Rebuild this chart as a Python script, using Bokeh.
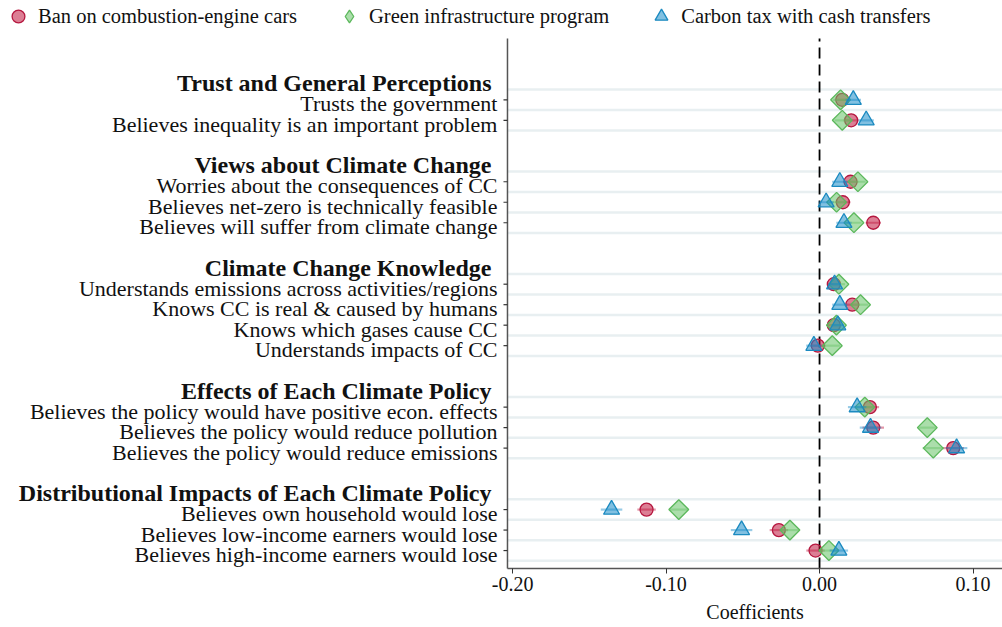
import numpy as np
from bokeh.plotting import figure
from bokeh.models import (Range1d, FixedTicker, Legend, LegendItem, ColumnDataSource)
from bokeh.core.properties import value
from bokeh.embed import file_html
from bokeh.resources import INLINE

# ---------------- data ----------------
group_titles = [
    "Trust and General Perceptions",
    "Views about Climate Change",
    "Climate Change Knowledge",
    "Effects of Each Climate Policy",
    "Distributional Impacts of Each Climate Policy",
]
group_items = [
    ["Trusts the government", "Believes inequality is an important problem"],
    ["Worries about the consequences of CC", "Believes net-zero is technically feasible",
     "Believes will suffer from climate change"],
    ["Understands emissions across activities/regions", "Knows CC is real & caused by humans",
     "Knows which gases cause CC", "Understands impacts of CC"],
    ["Believes the policy would have positive econ. effects",
     "Believes the policy would reduce pollution", "Believes the policy would reduce emissions"],
    ["Believes own household would lose", "Believes low-income earners would lose",
     "Believes high-income earners would lose"],
]
series_names = ["Ban on combustion-engine cars", "Green infrastructure program",
                "Carbon tax with cash transfers"]

ban = [0.0148, 0.0206,
       0.0202, 0.0152, 0.0350,
       0.0093, 0.0213, 0.0093, -0.0011,
       0.0328, 0.0350, 0.0871,
       -0.1127, -0.0265, -0.0026]
green = [0.0137, 0.0148,
         0.0250, 0.0111, 0.0224,
         0.0126, 0.0267, 0.0110, 0.0083,
         0.0295, 0.0702, 0.0741,
         -0.0917, -0.0193, 0.0061]
carbon = [0.0220, 0.0304,
          0.0132, 0.0043, 0.0159,
          0.0098, 0.0132, 0.0119, -0.0037,
          0.0245, 0.0332, 0.0893,
          -0.1355, -0.0508, 0.0126]
ban_ci = [0.005, 0.005, 0.005, 0.005, 0.005, 0.004, 0.005, 0.004, 0.005,
          0.006, 0.007, 0.007, 0.006, 0.006, 0.006]
green_ci = [0.005, 0.005, 0.005, 0.005, 0.005, 0.004, 0.005, 0.004, 0.005,
            0.006, 0.006, 0.007, 0.006, 0.006, 0.006]
carbon_ci = [0.005, 0.005, 0.005, 0.005, 0.005, 0.004, 0.005, 0.004, 0.005,
             0.006, 0.007, 0.007, 0.007, 0.007, 0.006]

x_ticks = [-0.20, -0.10, 0.00, 0.10]
x_tick_labels = ["-0.20", "-0.10", "0.00", "0.10"]
x_title = "Coefficients"

# ---------------- row layout ----------------
header_pos, item_pos, item_names = [], [], []
k = 0
for title, items in zip(group_titles, group_items):
    header_pos.append(-k)
    k += 1
    for it in items:
        item_pos.append(-k)
        item_names.append(it)
        k += 1
    k += 1

grid_pos = [hp - 0.5 for hp in header_pos] + [ip - 0.5 for ip in item_pos]

# panel extents (data units)
X_START = -0.5336
X_AX = -0.2033          # where the y axis sits
X_END = 0.1192
Y_TOP = 1.99
Y_BOT = -23.875
Y_CANVAS_TOP = 3.846
Y_CANVAS_BOT = -26.755
Y_TITLE = -26.02

FONT = "Liberation Serif"
TXT = "#111111"

p = figure(width=1002, height=627, output_backend="svg", toolbar_location=None,
           x_range=Range1d(X_START, X_END), y_range=Range1d(Y_CANVAS_BOT, Y_CANVAS_TOP),
           y_axis_location=None,
           min_border_left=0, min_border_top=0, min_border_bottom=0,
           min_border_right=0)
p.outline_line_color = None
p.background_fill_color = "white"
p.grid.visible = False

# light horizontal bands around each row (panel only)
p.segment(x0=X_AX, x1=X_END, y0=grid_pos, y1=grid_pos,
          line_color="#e8eff1", line_width=2.5)

# x axis, pinned at the bottom of the panel
xa = p.xaxis[0]
xa.fixed_location = Y_BOT
xa.bounds = (X_AX, X_END)
xa.ticker = FixedTicker(ticks=x_ticks)
xa.major_label_overrides = {v: s for v, s in zip(x_ticks, x_tick_labels)}
xa.major_label_text_font = FONT
xa.major_label_text_font_size = "20px"
xa.major_label_text_color = TXT
xa.major_tick_out = 5
xa.major_tick_in = 0
xa.minor_tick_line_color = None
xa.major_label_standoff = 4
xa.axis_line_color = "#555555"
xa.axis_line_width = 1.5
xa.major_tick_line_color = "#333333"

p.text(x=[(X_AX + X_END) / 2], y=[Y_TITLE], text=[x_title], text_align="center",
       text_baseline="middle", text_font=value(FONT), text_font_size="20px",
       text_color=TXT)

# y axis line and ticks
p.segment(x0=X_AX, x1=X_AX, y0=Y_BOT, y1=Y_TOP, line_color="#555555", line_width=1.5)
p.ray(x=[X_AX] * len(item_pos), y=item_pos, length=4, length_units="screen",
      angle=np.pi, line_color="#333333", line_width=1.2)

# zero reference line
p.segment(x0=0, x1=0, y0=Y_BOT, y1=Y_TOP, line_color="black",
          line_width=1.8, line_dash="11 6")

# row labels
p.text(x=[X_AX] * len(item_pos), y=item_pos, text=item_names, x_offset=-10, y_offset=4,
       text_align="right", text_baseline="middle", text_font=value(FONT),
       text_font_size="22px", text_color=TXT)
p.text(x=[X_AX] * len(header_pos), y=header_pos, text=group_titles, x_offset=-16, y_offset=4,
       text_align="right", text_baseline="middle", text_font=value(FONT),
       text_font_style="bold", text_font_size="24px", text_color=TXT)

# series
styles = [
    (ban, ban_ci, "circle", 13, "#c0143c", "#b5173f", 0),
    (green, green_ci, "square", 14, "#66c266", "#5cb85c", np.pi / 4),
    (carbon, carbon_ci, "triangle", 16, "#1a8cc8", "#1b8ac0", 0),
]
legend_items = []
for (vals, ci, marker, size, fill, edge, ang), name in zip(styles, series_names):
    vals = np.array(vals)
    ci = np.array(ci)
    src = ColumnDataSource(dict(x=vals, y=item_pos, lo=vals - ci, hi=vals + ci))
    p.segment(x0="lo", x1="hi", y0="y", y1="y", source=src,
              line_color=fill, line_alpha=0.45, line_width=2.2)
    r = p.scatter(x="x", y="y", source=src, marker=marker, size=size, angle=ang,
                  fill_color=fill, fill_alpha=0.55, line_color=edge,
                  line_width=1.3)
    if marker == "square":
        # diamond-shaped legend key (the key cannot be rotated); zero size in the panel
        key = p.scatter(x=vals[:1], y=item_pos[:1], marker="diamond", size=0,
                        fill_color=fill, fill_alpha=0.55, line_color=edge, line_width=1.3)
    else:
        key = r
    legend_items.append(LegendItem(label=name, renderers=[key]))

legend = Legend(items=legend_items,
                orientation="horizontal", location=(2, 595),
                label_text_font=FONT, label_text_font_size="20.5px",
                label_text_color=TXT,
                glyph_width=32, glyph_height=32, label_standoff=4, spacing=36,
                padding=0, margin=0, border_line_color=None,
                background_fill_alpha=0)
p.add_layout(legend, "center")

open("out.html", "w").write(file_html(p, INLINE))
